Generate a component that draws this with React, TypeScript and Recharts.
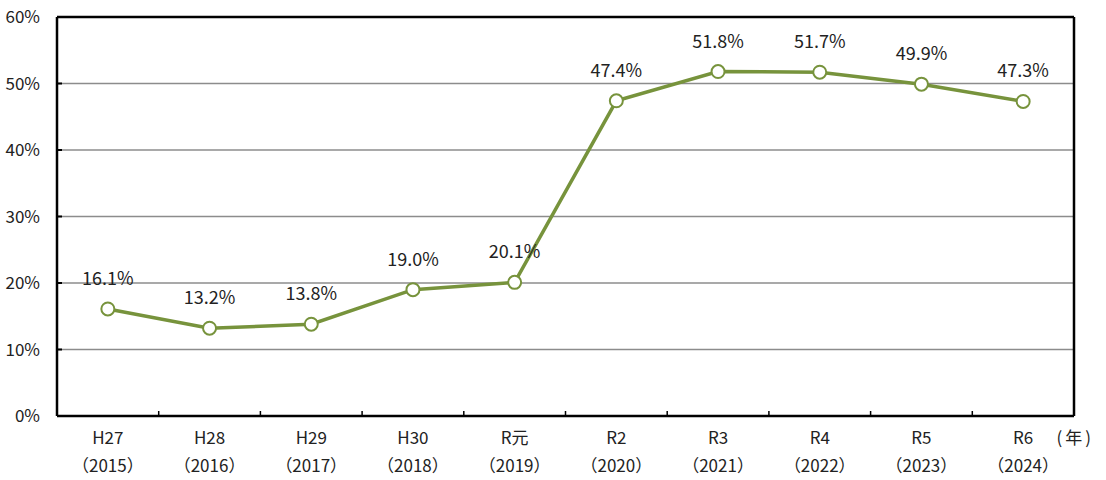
import React from 'react';
import {
    LineChart,
    Line,
    XAxis,
    YAxis,
    CartesianGrid,
    LabelList,
    ReferenceLine,
} from 'recharts';

const eras = ['H27', 'H28', 'H29', 'H30', 'R元', 'R2', 'R3', 'R4', 'R5', 'R6'];
const years = ['2015', '2016', '2017', '2018', '2019', '2020', '2021', '2022', '2023', '2024'];
const rates = [16.1, 13.2, 13.8, 19.0, 20.1, 47.4, 51.8, 51.7, 49.9, 47.3];
const yTicks = [0, 10, 20, 30, 40, 50, 60];

const data = eras.map((era, i) => ({ era, year: years[i], rate: rates[i] }));

const FONT = '"Noto Sans CJK JP", "Noto Sans", sans-serif';
const GREEN = '#77933C';

const XTick = (props: any) => {
    const { x, y, payload, index, width } = props;
    const year = years[index] ?? '';
    const half = width / eras.length / 2;
    const last = index === eras.length - 1;
    return (
        <g>
            {!last && (
                <line x1={x + half} y1={y} x2={x + half} y2={y - 5} stroke="#000" strokeWidth={1.5} />
            )}
            <text x={x} y={y + 28} textAnchor="middle" fontSize={17} fill="#222" fontFamily={FONT}>
                {payload.value}
            </text>
            <text x={x} y={y + 56} textAnchor="middle" fontSize={17} fill="#222" fontFamily={FONT}>
                {`（${year}）`}
            </text>
            {last && (
                <text
                    x={x + 52}
                    y={y + 28}
                    textAnchor="middle"
                    fontSize={17}
                    fill="#222"
                    fontFamily={FONT}
                    letterSpacing={3}
                >
                    (年)
                </text>
            )}
        </g>
    );
};

const YTick = (props: any) => {
    const { x, y, payload } = props;
    return (
        <g>
            <text x={x} y={y} dy={6} textAnchor="end" fontSize={17} fill="#222" fontFamily={FONT}>
                {`${payload.value}%`}
            </text>
            <line x1={x + 17} y1={y} x2={x + 22} y2={y} stroke="#000" strokeWidth={2} />
        </g>
    );
};

const renderLabel = (props: any) => {
    const { x, y, value } = props;
    return (
        <text x={x} y={y - 24} textAnchor="middle" fontSize={18} fill="#222" fontFamily={FONT}>
            {`${value.toFixed(1)}%`}
        </text>
    );
};

export default function App() {
    return (
        <div style={{ position: 'absolute', left: 0, top: 0, background: '#fff' }}>
            <LineChart
                width={1106}
                height={480}
                data={data}
                margin={{ top: 17, right: 32, left: 0, bottom: 0 }}
            >
                <CartesianGrid vertical={false} stroke="#8c8c8c" strokeWidth={1.5} />
                <CartesianGrid
                    horizontal={false}
                    stroke="#000"
                    strokeWidth={2.5}
                    verticalCoordinatesGenerator={({ offset }: any) => [offset.left + offset.width]}
                />
                <XAxis
                    dataKey="era"
                    scale="band"
                    height={64}
                    axisLine={{ stroke: '#000', strokeWidth: 2.5 }}
                    tickLine={false}
                    tickSize={0}
                    tickMargin={0}
                    tick={<XTick />}
                    interval={0}
                />
                <YAxis
                    width={57}
                    domain={[0, 60]}
                    ticks={yTicks}
                    axisLine={{ stroke: '#000', strokeWidth: 2.5 }}
                    tickLine={false}
                    tickSize={0}
                    tickMargin={17}
                    tick={<YTick />}
                />
                <ReferenceLine y={60} stroke="#000" strokeWidth={2.5} />
                <Line
                    type="linear"
                    dataKey="rate"
                    stroke={GREEN}
                    strokeWidth={3.5}
                    dot={{ r: 6.5, fill: '#fff', stroke: GREEN, strokeWidth: 2 }}
                    activeDot={false}
                    isAnimationActive={false}
                >
                    <LabelList dataKey="rate" content={renderLabel} />
                </Line>
            </LineChart>
        </div>
    );
}
